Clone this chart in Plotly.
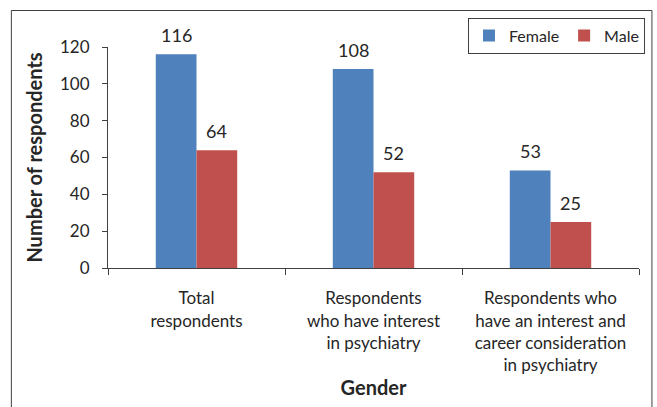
import plotly.graph_objects as go

# Survey counts by gender
categories = [
    "Total<br>respondents",
    "Respondents<br>who have interest<br>in psychiatry",
    "Respondents who<br>have an interest and<br>career consideration<br>in psychiatry",
]
female = [116, 108, 53]
male = [64, 52, 25]

FONT = "Lato, 'Open Sans', sans-serif"
TEXT = "#262626"
LINE = "#404040"
BLUE = "#4F81BD"
RED = "#C0504D"

W, H = 657, 407
ML, MR, MT, MB = 108, 16, 47, 139
BARGAP = 0.54

fig = go.Figure()
fig.add_bar(name="Female", x=categories, y=female, marker_color=BLUE, marker_line_width=0)
fig.add_bar(name="Male", x=categories, y=male, marker_color=RED, marker_line_width=0)

# value labels above each bar
plot_w = W - ML - MR
bar_px = plot_w / len(categories) * (1 - BARGAP) / 2
for series, shift in ((female, -bar_px / 2), (male, bar_px / 2)):
    for cat, v in zip(categories, series):
        fig.add_annotation(
            x=cat, y=v, text=str(v), showarrow=False,
            xshift=shift, yshift=19, yanchor="middle",
            font=dict(family=FONT, size=18, color=TEXT),
        )

# outer frame around the chart
plot_h = H - MT - MB
fig.add_shape(
    type="rect", xref="paper", yref="paper",
    x0=(11 - ML) / plot_w, x1=(654 - ML) / plot_w,
    y0=-0.9, y1=(H - MB - 10.5) / plot_h,
    line=dict(color=LINE, width=1), fillcolor="rgba(0,0,0,0)", layer="below",
)

fig.update_layout(
    width=W, height=H,
    margin=dict(l=ML, r=MR, t=MT, b=MB, pad=0),
    paper_bgcolor="white", plot_bgcolor="white",
    barmode="group", bargap=BARGAP, bargroupgap=0,
    font=dict(family=FONT, size=17, color=TEXT),
    showlegend=True,
    legend=dict(
        orientation="h", x=(647 - ML) / plot_w, xanchor="right",
        y=(H - MB - 17.5) / plot_h, yanchor="top",
        bordercolor=LINE, borderwidth=1, bgcolor="white",
        font=dict(family=FONT, size=16, color=TEXT),
        itemwidth=30, traceorder="normal",
    ),
    xaxis=dict(
        type="category", tickson="boundaries", automargin=False,
        showline=True, linecolor=LINE, linewidth=1,
        ticks="outside", ticklen=6, tickcolor=LINE,
        showgrid=False, ticklabelstandoff=15,
        tickfont=dict(family=FONT, size=17, color=TEXT),
        title=dict(text="<b>Gender</b>", standoff=7,
                   font=dict(family=FONT, size=20, color=TEXT)),
    ),
    yaxis=dict(
        range=[0, 120], dtick=20, tick0=0, automargin=False,
        showline=True, linecolor=LINE, linewidth=1,
        ticks="outside", ticklen=5, tickcolor=LINE,
        showgrid=False, zeroline=False, ticklabelstandoff=9,
        tickfont=dict(family=FONT, size=17, color=TEXT),
        title=dict(text="<b>Number of respondents</b>", standoff=12,
                   font=dict(family=FONT, size=20, color=TEXT)),
    ),
)

fig.write_html("out.html")
